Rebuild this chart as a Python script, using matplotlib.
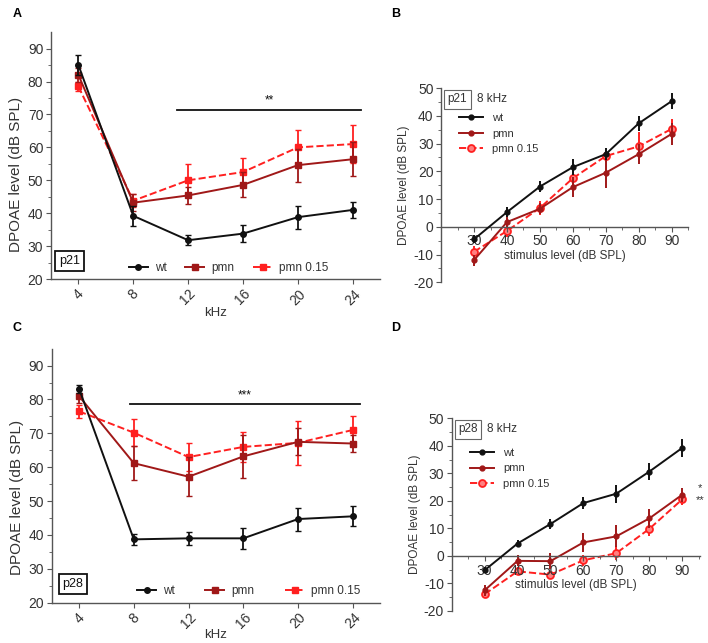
import matplotlib.pyplot as plt
from matplotlib.lines import Line2D

plt.rcParams['font.family'] = ['Liberation Sans', 'DejaVu Sans']
plt.rcParams['axes.unicode_minus'] = False

# frequency panels (A, C)
freq = [4, 8, 12, 16, 20, 24]

a_wt = [85, 39.2, 31.8, 33.8, 38.8, 41]
a_wt_err = [3, 3, 1.5, 2.5, 3.5, 2.5]
a_pmn = [82, 43.2, 45.4, 48.6, 54.6, 56.4]
a_pmn_err = [2, 2.5, 2.5, 3.8, 5, 5.2]
a_p15 = [78.5, 43.8, 50, 52.5, 60, 61]
a_p15_err = [1.5, 2, 5, 4.3, 5.2, 5.8]

c_wt = [83.2, 38.7, 39, 39, 44.7, 45.5]
c_wt_err = [1.2, 1.6, 2, 3.2, 3.4, 3]
c_pmn = [81, 61.2, 57.2, 63.2, 67.5, 67]
c_pmn_err = [2, 5, 5.7, 6.3, 4, 2.5]
c_p15 = [76.5, 70.2, 63, 66, 67.2, 71]
c_p15_err = [2, 4, 4.2, 4.5, 6.5, 4.2]

# stimulus level panels (B, D)
level = [30, 40, 50, 60, 70, 80, 90]

b_wt = [-4.5, 5.3, 14.5, 21.5, 26.2, 37.3, 45.3]
b_wt_err = [1.5, 1.8, 2, 3, 2.2, 2.8, 2.8]
b_pmn = [-12, 1.7, 6.5, 14.3, 19.5, 26.2, 33.5]
b_pmn_err = [2, 2, 2, 3.5, 5.5, 3.5, 4]
b_p15 = [-9, -1.5, 6.8, 17.5, 25.5, 29, 35.3]
b_p15_err = [2, 2, 2.5, 3, 2, 5, 3.5]

d_wt = [-5.2, 4.5, 11.6, 19.2, 22.6, 30.6, 39.2]
d_wt_err = [1, 1.3, 1.7, 2.2, 3.3, 3, 3.2]
d_pmn = [-12.5, -1.8, -1.9, 4.9, 7.1, 13.6, 22.2]
d_pmn_err = [2, 2, 3, 3.5, 4, 3.5, 2.5]
d_p15 = [-13.9, -5.6, -6.8, -1.6, 1, 9.8, 20.5]
d_p15_err = [1.5, 1.5, 1, 2, 2.5, 2.5, 2]

labels = ['wt', 'pmn', 'pmn 0.15']

BLACK = '#111111'
DARK = '#a01818'
RED = '#ff2020'
SPINE = '#555555'
TXT = '#333333'

fig = plt.figure(figsize=(7.08, 6.43), dpi=100)


def style(ax):
    for s in ['top', 'right']:
        ax.spines[s].set_visible(False)
    for s in ['left', 'bottom']:
        ax.spines[s].set_color(SPINE)
        ax.spines[s].set_linewidth(1.0)
    ax.tick_params(colors=SPINE, labelcolor=TXT, labelsize=10, length=3.5, pad=2)
    ax.tick_params(which='minor', colors=SPINE, length=2.5)


def freq_panel(rect, wt, wt_e, pmn, pmn_e, p15, p15_e, tag, tag_x, sig_x, sig_y, stars,
               leg_x, colsp, ylab_y, xlab_y):
    ax = fig.add_axes(rect)
    ax.errorbar(freq, wt, yerr=wt_e, color=BLACK, marker='o', ms=4, lw=1.4,
                capsize=2.5, elinewidth=1.3, zorder=3)
    ax.errorbar(freq, pmn, yerr=pmn_e, color=DARK, marker='s', ms=4, lw=1.4,
                capsize=2.5, elinewidth=1.3, zorder=2)
    ax.errorbar(freq, p15, yerr=p15_e, color=RED, marker='s', ms=4, lw=1.4,
                ls='--', capsize=2.5, elinewidth=1.3, zorder=1)
    ax.set_xlim(2, 26)
    ax.set_ylim(20, 95)
    ax.set_xticks(freq)
    ax.set_xticklabels([str(f) for f in freq], rotation=45)
    ax.set_yticks(range(20, 91, 10))
    ax.set_yticks(range(25, 95, 10), minor=True)
    ax.set_xlabel('kHz', fontsize=9.5, color=TXT)
    ax.xaxis.set_label_coords(0.5, xlab_y)
    ax.set_ylabel('DPOAE level (dB SPL)', fontsize=11, color=TXT)
    ax.yaxis.set_label_coords(-0.085, ylab_y)
    style(ax)
    ax.plot(sig_x, [sig_y, sig_y], color=BLACK, lw=1.3)
    ax.text((sig_x[0] + sig_x[1]) / 2, sig_y + 0.8, stars, ha='center', va='bottom',
            fontsize=8.5, color=BLACK)
    ax.text(tag_x, 25.5, tag, fontsize=9, color=BLACK, ha='left', va='center',
            bbox=dict(boxstyle='square,pad=0.3', fc='white', ec=BLACK, lw=1.3))
    handles = [Line2D([], [], color=BLACK, marker='o', ms=4, lw=1.4),
               Line2D([], [], color=DARK, marker='s', ms=4, lw=1.4),
               Line2D([], [], color=RED, marker='s', ms=4, lw=1.4, ls='--')]
    leg = ax.legend(handles, labels, loc='center', bbox_to_anchor=(leg_x, 0.045), ncol=3,
                    frameon=False, fontsize=8.5, handlelength=1.6, columnspacing=colsp,
                    handletextpad=0.6, borderpad=0)
    for t in leg.get_texts():
        t.set_color(TXT)
    return ax


def level_panel(rect, wt, wt_e, pmn, pmn_e, p15, p15_e, tag, xmax, khz_x, leg_y):
    ax = fig.add_axes(rect)
    ax.errorbar(level, wt, yerr=wt_e, color=BLACK, marker='o', ms=3.5, lw=1.4,
                capsize=0, elinewidth=1.4, zorder=3)
    ax.errorbar(level, pmn, yerr=pmn_e, color=DARK, marker='o', ms=3.5, lw=1.4,
                capsize=0, elinewidth=1.4, zorder=2)
    ax.errorbar(level, p15, yerr=p15_e, color=RED, marker='o', ms=5, lw=1.4,
                ls='--', mfc='#ff8080', mec=RED, mew=1.3, capsize=0, elinewidth=1.4,
                zorder=1)
    ax.set_xlim(20, xmax)
    ax.set_ylim(-20, 50)
    ax.spines['bottom'].set_position(('data', 0))
    ax.set_xticks(level)
    ax.set_xticks(range(25, int(xmax) + 1, 10), minor=True)
    ax.set_yticks(range(-20, 51, 10))
    ax.set_yticks(range(-15, 50, 10), minor=True)
    style(ax)
    ax.set_xlabel('stimulus level (dB SPL)', fontsize=8.5, color=TXT, labelpad=1)
    ax.set_ylabel('DPOAE level (dB SPL)', fontsize=8.5, color=TXT, labelpad=2)
    ax.text(22, 46, tag, fontsize=8.5, color=TXT, ha='left', va='center',
            bbox=dict(boxstyle='square,pad=0.3', fc='white', ec='#666666', lw=0.8))
    ax.text(khz_x, 46, '8 kHz', fontsize=8.5, color=TXT, ha='left', va='center')
    handles = [Line2D([], [], color=BLACK, marker='o', ms=3.5, lw=1.4),
               Line2D([], [], color=DARK, marker='o', ms=3.5, lw=1.4),
               Line2D([], [], color=RED, marker='o', ms=5, lw=1.4, ls='--',
                      mfc='#ff8080', mec=RED, mew=1.3)]
    leg = ax.legend(handles, labels, loc='upper left', bbox_to_anchor=(0.05, leg_y),
                    frameon=False, fontsize=8, handlelength=2.2, labelspacing=0.5,
                    handletextpad=0.8, borderpad=0)
    for t in leg.get_texts():
        t.set_color(TXT)
    return ax


freq_panel([0.072, 0.566, 0.465, 0.384], a_wt, a_wt_err, a_pmn, a_pmn_err,
           a_p15, a_p15_err, 'p21', 2.6, [11.2, 24.6], 71.5, '**', 0.54, 1.6, 0.425, -0.113)
freq_panel([0.073, 0.0627, 0.464, 0.395], c_wt, c_wt_err, c_pmn, c_pmn_err,
           c_p15, c_p15_err, 'p28', 2.8, [7.7, 24.5], 78.7, '***', 0.6, 2.6, 0.413, -0.103)
level_panel([0.623, 0.561, 0.349, 0.302], b_wt, b_wt_err, b_pmn, b_pmn_err,
            b_p15, b_p15_err, 'p21', 95, 30.8, 0.9)
axd = level_panel([0.638, 0.0498, 0.351, 0.2997], d_wt, d_wt_err, d_pmn, d_pmn_err,
                  d_p15, d_p15_err, 'p28', 95.5, 30.6, 0.875)
axd.text(95.5, 24.7, '*', fontsize=8, color=TXT, ha='center', va='center', clip_on=False)
axd.text(95.5, 20.4, '**', fontsize=8, color=TXT, ha='center', va='center', clip_on=False)

for lbl, x, y in [('A', 0.018, 0.978), ('B', 0.553, 0.978), ('C', 0.018, 0.49), ('D', 0.553, 0.49)]:
    fig.text(x, y, lbl, fontsize=9, fontweight='bold', ha='left', va='center')

fig.savefig('out.png', dpi=100)
